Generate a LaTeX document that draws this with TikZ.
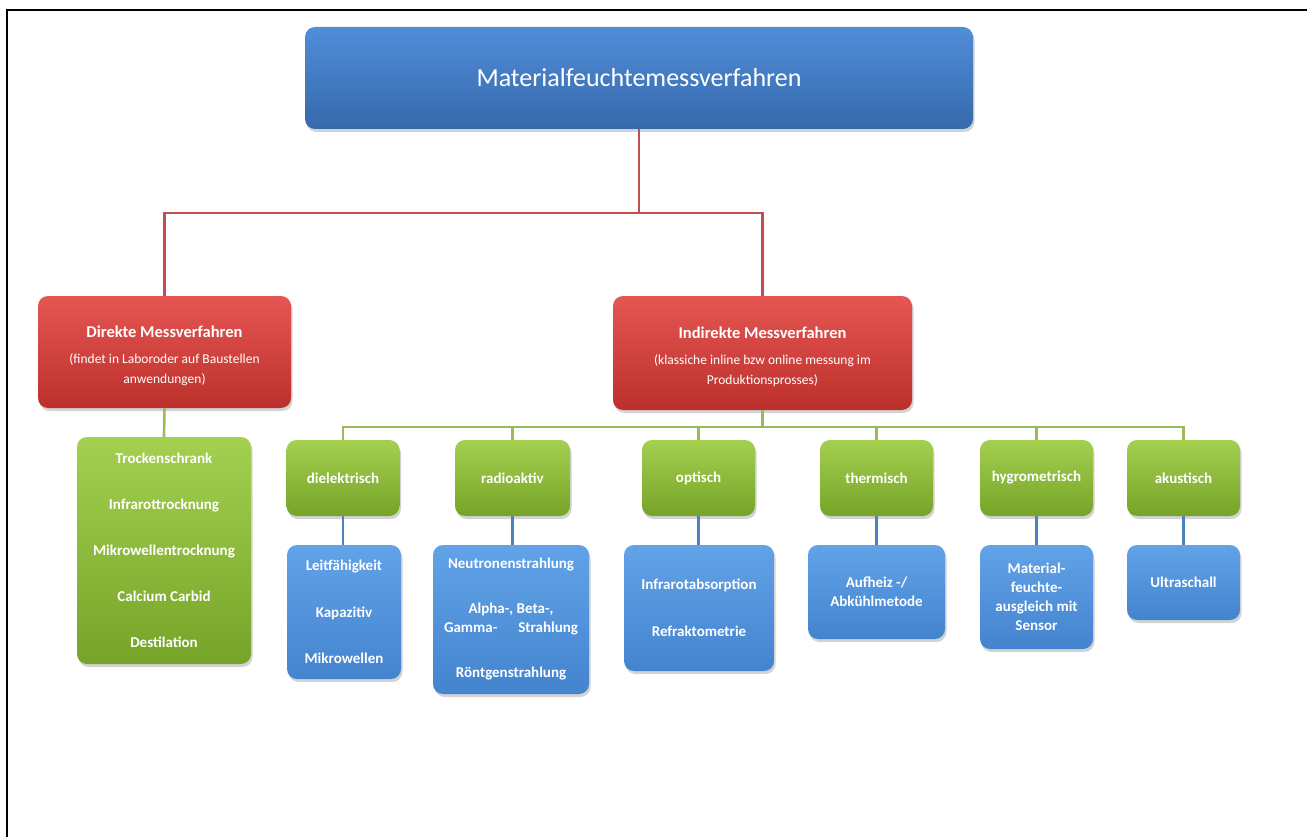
\documentclass[tikz,border=0pt]{standalone}
\usepackage{fontspec}
\setmainfont{Carlito}
\usetikzlibrary{shadows}
\definecolor{bluetop}{RGB}{80,142,216}
\definecolor{bluebot}{RGB}{54,104,172}
\definecolor{redtop}{RGB}{228,86,82}
\definecolor{redbot}{RGB}{188,48,44}
\definecolor{greentop}{RGB}{164,208,80}
\definecolor{greenbot}{RGB}{118,164,40}
\definecolor{leaftop}{RGB}{98,162,232}
\definecolor{leafbot}{RGB}{68,132,206}
\definecolor{redln}{RGB}{192,80,77}
\definecolor{greenln}{RGB}{155,187,89}
\definecolor{blueln}{RGB}{79,129,189}
\newcommand{\hdfont}{\bfseries\fontsize{16.5}{20}\selectfont}
\newcommand{\subfont}{\mdseries\fontsize{13.5}{20}\selectfont}
\tikzset{
  boxbase/.style={rectangle, rounded corners=10pt, inner sep=0pt, outer sep=0pt,
    text=white, align=center, anchor=center,
    drop shadow={opacity=0.35, shadow xshift=1.5pt, shadow yshift=-3pt}},
  topbox/.style={boxbase, top color=bluetop, bottom color=bluebot,
    font=\fontsize{26}{30}\selectfont},
  redbox/.style={boxbase, top color=redtop, bottom color=redbot, font=\subfont},
  greenbox/.style={boxbase, top color=greentop, bottom color=greenbot,
    font=\bfseries\fontsize{15}{18}\selectfont},
  leafbox/.style={boxbase, top color=leaftop, bottom color=leafbot,
    font=\bfseries\fontsize{15}{19}\selectfont},
  redline/.style={draw=redln, line width=2.6pt},
  greenline/.style={draw=greenln, line width=2.6pt},
  blueline/.style={draw=blueln, line width=2.6pt},
}
\begin{document}
\begin{tikzpicture}[x=1pt, y=-1pt]
\useasboundingbox (0,0) rectangle (1307,837);
\draw[line width=2pt] (7,837) -- (7,10) -- (1307,10);

% top
\node[topbox, minimum width=668pt, minimum height=102pt] (top) at (639,78) {Materialfeuchtemessverfahren};

% red level
\node[redbox, minimum width=253pt, minimum height=112pt] (dir) at (164.5,352)
  {\hdfont\rule{0pt}{20pt}Direkte Messverfahren\\[6pt](findet in Laboroder auf Baustellen\\anwendungen)};
\node[redbox, minimum width=299pt, minimum height=114pt] (ind) at (762.5,353)
  {\hdfont\rule{0pt}{20pt}Indirekte Messverfahren\\[6pt](klassiche inline bzw online messung im\\Produktionsprosses)};

% direct list
\node[greenbox, minimum width=174pt, minimum height=227pt,
  font=\bfseries\fontsize{15}{46}\selectfont] (glist) at (164,550.5)
  {Trockenschrank\\Infrarottrocknung\\Mikrowellentrocknung\\Calcium Carbid\\Destilation};

% green categories
\node[greenbox, minimum width=113pt, minimum height=76pt] (diel) at (343,478) {dielektrisch};
\node[greenbox, minimum width=115pt, minimum height=76pt] (radio) at (512.5,478) {radioaktiv};
\node[greenbox, minimum width=113pt, minimum height=76pt] (opt) at (698.5,478) {optisch};
\node[greenbox, minimum width=113pt, minimum height=76pt] (therm) at (876.5,478) {thermisch};
\node[greenbox, minimum width=113pt, minimum height=76pt] (hygro) at (1036.5,478) {hygrometrisch};
\node[greenbox, minimum width=113pt, minimum height=76pt] (akus) at (1183.5,478) {akustisch};

% blue leaves
\node[leafbox, minimum width=114pt, minimum height=134pt,
  font=\bfseries\fontsize{15}{46.5}\selectfont] (leit) at (344,612)
  {Leitfähigkeit\\Kapazitiv\\Mikrowellen};
\node[leafbox, minimum width=156pt, minimum height=149pt] (neutr) at (511,619.5)
  {Neutronenstrahlung\\[26pt]Alpha-, Beta-,\\Gamma-\hspace{1.4em}Strahlung\\[26pt]Röntgenstrahlung};
\node[leafbox, minimum width=150pt, minimum height=126pt,
  font=\bfseries\fontsize{15}{47}\selectfont] (infra) at (699,608)
  {Infrarotabsorption\\Refraktometrie};
\node[leafbox, minimum width=137pt, minimum height=94pt] (aufh) at (876.5,592)
  {Aufheiz -/\\Abkühlmetode};
\node[leafbox, minimum width=113pt, minimum height=104pt] (mat) at (1036.5,597)
  {Material-\\feuchte-\\ausgleich mit\\Sensor};
\node[leafbox, minimum width=113pt, minimum height=75pt] (ultra) at (1183.5,582.5)
  {Ultraschall};

% red connectors
\draw[redline] (top.south) -- ++(0,84) coordinate (rj);
\draw[redline] (dir.north) |- (rj) -| (ind.north);

% green connectors
\draw[greenline] (dir.south) -- (glist.north);
\draw[greenline] (ind.south) -- ++(0,17) coordinate (gj);
\draw[greenline] (diel.north) |- (gj) -| (akus.north);
\draw[greenline] (radio.north) -- (radio.north |- gj);
\draw[greenline] (opt.north) -- (opt.north |- gj);
\draw[greenline] (therm.north) -- (therm.north |- gj);
\draw[greenline] (hygro.north) -- (hygro.north |- gj);

% blue connectors
\draw[blueline] (diel.south) -- (diel.south |- leit.north);
\draw[blueline] (radio.south) -- (radio.south |- neutr.north);
\draw[blueline] (opt.south) -- (opt.south |- infra.north);
\draw[blueline] (therm.south) -- (therm.south |- aufh.north);
\draw[blueline] (hygro.south) -- (mat.north);
\draw[blueline] (akus.south) -- (ultra.north);
\end{tikzpicture}
\end{document}
